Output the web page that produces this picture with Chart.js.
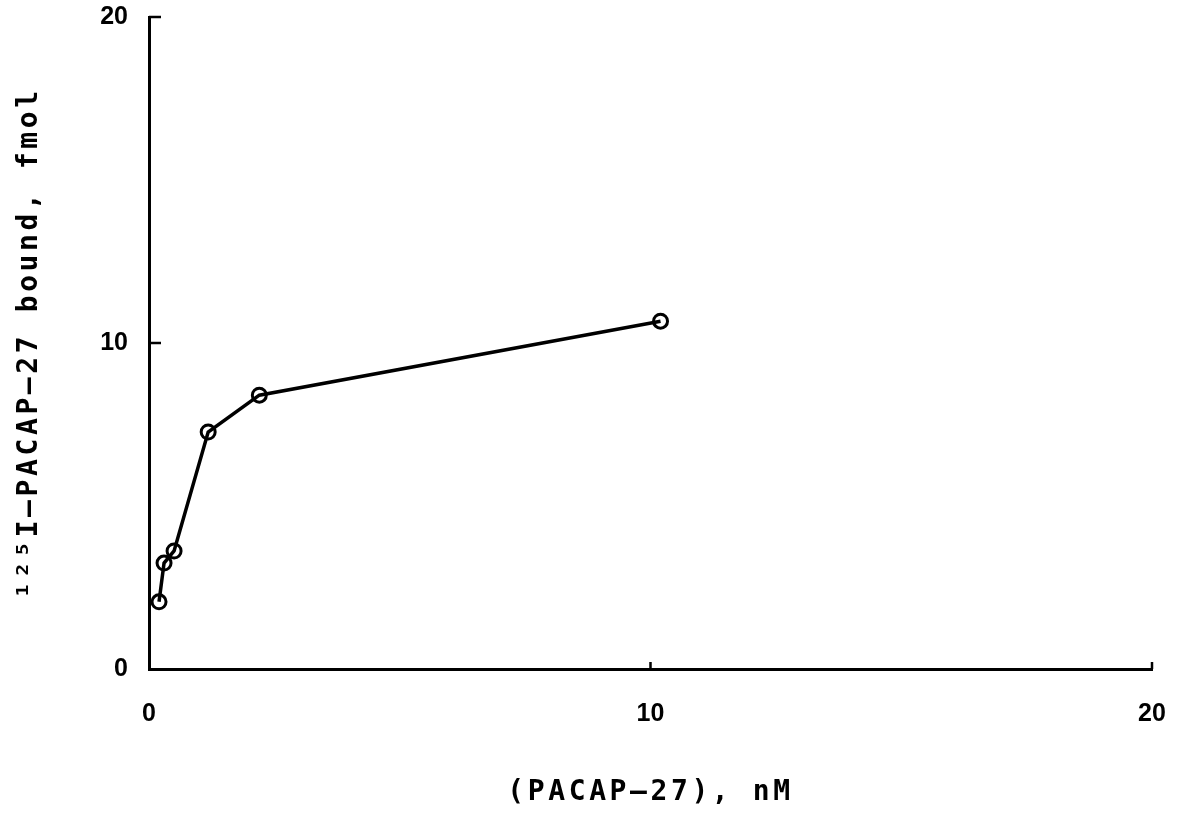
<!DOCTYPE html>
<html>
<head>
<meta charset="utf-8">
<script src="https://cdn.jsdelivr.net/npm/chart.js@4"></script>
<style>
  html, body { margin: 0; padding: 0; background: #fff; }
  #wrap { width: 1181px; height: 817px; }
</style>
</head>
<body>
<div id="wrap"><canvas id="graph"></canvas></div>
<script>
// PACAP-27 concentration (nM) vs bound 125I-PACAP-27 (fmol)
var conc = [0.2, 0.3, 0.5, 1.18, 2.2, 10.2];
var bound = [2.06, 3.25, 3.62, 7.27, 8.4, 10.67];
var xTicks = [0, 10, 20];
var yTicks = [0, 10, 20];

var points = conc.map(function (c, i) { return {x: c, y: bound[i]}; });

var fontFam = "'DejaVu Sans Mono', monospace";
var tickFam = "'Liberation Sans', Arial, sans-serif";

// small tick marks pointing into the plot, like the original
var inwardTicks = {
  id: 'inwardTicks',
  beforeDraw: function (chart) {
    // spaced-out lettering for the axis titles only
    ['x', 'y'].forEach(function (id) {
      var s = chart.scales[id];
      if (s && !s._spaced) {
        var orig = s.drawTitle;
        s.drawTitle = function () {
          chart.ctx.letterSpacing = '3.6px';
          orig.apply(this, arguments);
          chart.ctx.letterSpacing = '0px';
        };
        s._spaced = true;
      }
    });
  },
  afterDraw: function (chart) {
    var ctx = chart.ctx, a = chart.chartArea;
    var xs = chart.scales.x, ys = chart.scales.y;
    ctx.save();
    ctx.strokeStyle = '#000';
    ctx.lineWidth = 2.5;
    yTicks.forEach(function (v) {
      if (v === 0) return;
      var py = ys.getPixelForValue(v);
      ctx.beginPath();
      ctx.moveTo(a.left, py);
      ctx.lineTo(a.left + 12, py);
      ctx.stroke();
    });
    xTicks.forEach(function (v) {
      if (v === 0) return;
      var px = xs.getPixelForValue(v);
      ctx.beginPath();
      ctx.moveTo(px, a.bottom);
      ctx.lineTo(px, a.bottom - 7);
      ctx.stroke();
    });
    ctx.restore();
  }
};

var config = {
  type: 'scatter',
  data: {
    datasets: [{
      data: points,
      showLine: true,
      borderColor: '#000',
      borderWidth: 3.5,
      backgroundColor: 'rgba(0,0,0,0)',
      pointRadius: 7,
      pointBorderWidth: 3,
      pointBorderColor: '#000',
      pointBackgroundColor: 'rgba(0,0,0,0)',
      tension: 0
    }]
  },
  options: {
    responsive: true,
    maintainAspectRatio: false,
    animation: false,
    layout: { padding: { top: 17, right: 29, left: 0, bottom: 0 } },
    plugins: { legend: { display: false }, tooltip: { enabled: false } },
    scales: {
      x: {
        type: 'linear',
        min: 0,
        max: 20,
        afterFit: function (s) { s.height = 148; s.paddingLeft = 0; s.paddingRight = 0; },
        afterBuildTicks: function (s) { s.ticks = xTicks.map(function (v) { return {value: v}; }); },
        grid: { display: false, drawTicks: false },
        border: { display: true, color: '#000', width: 3 },
        ticks: {
          color: '#000',
          padding: 30,
          maxRotation: 0,
          font: { family: tickFam, size: 25, weight: 'bold' }
        },
        title: {
          display: true,
          text: '(PACAP–27), nM',
          color: '#000',
          padding: { top: 0, bottom: 7 },
          font: { family: fontFam, size: 28, weight: 'bold' }
        }
      },
      y: {
        type: 'linear',
        min: 0,
        max: 20,
        afterFit: function (s) { s.width = 149; s.paddingTop = 0; s.paddingBottom = 0; },
        afterBuildTicks: function (s) { s.ticks = yTicks.map(function (v) { return {value: v}; }); },
        grid: { display: false, drawTicks: false },
        border: { display: true, color: '#000', width: 3 },
        ticks: {
          color: '#000',
          padding: 21,
          font: { family: tickFam, size: 25, weight: 'bold' }
        },
        title: {
          display: true,
          text: '¹²⁵I–PACAP–27 bound, fmol',
          color: '#000',
          padding: { top: 13, bottom: 0 },
          font: { family: fontFam, size: 28, weight: 'bold' }
        }
      }
    }
  },
  plugins: [inwardTicks]
};

var graph = new Chart(document.getElementById('graph'), config);
</script>
</body>
</html>
